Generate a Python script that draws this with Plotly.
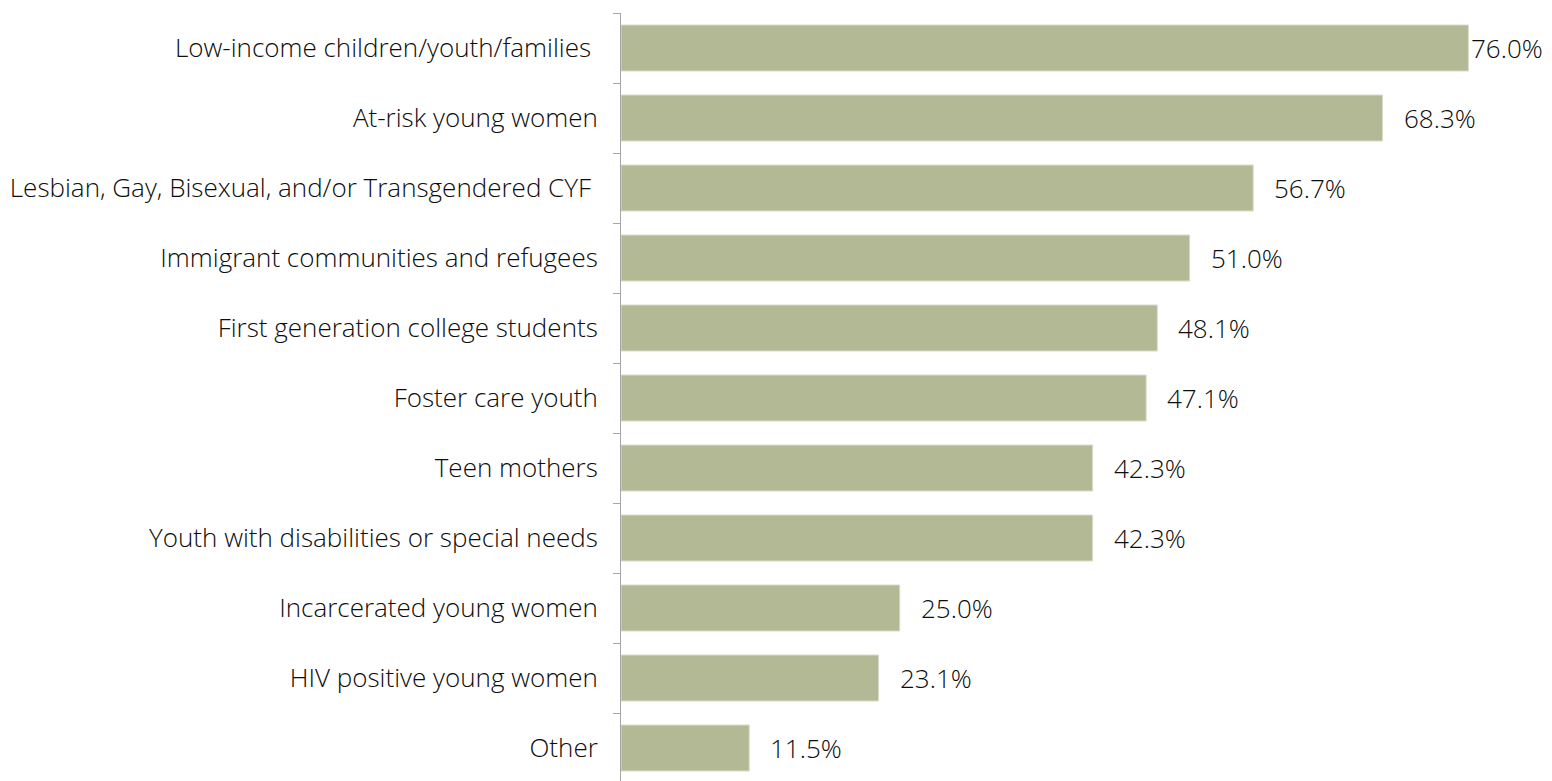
import plotly.graph_objects as go

categories = [
    "Low-income children/youth/families\u00a0",
    "At-risk young women",
    "Lesbian, Gay, Bisexual, and/or Transgendered CYF\u00a0",
    "Immigrant communities and refugees",
    "First generation college students",
    "Foster care youth",
    "Teen mothers",
    "Youth with disabilities or special needs",
    "Incarcerated young women",
    "HIV positive young women",
    "Other",
]
values = [76.0, 68.3, 56.7, 51.0, 48.1, 47.1, 42.3, 42.3, 25.0, 23.1, 11.5]

X_MAX = 80
FONT = dict(family="Open Sans", size=26, color="#0d0d0d", weight=300)
BAR_COLOR = "#B3B994"
AXIS_COLOR = "#A6A6A6"

fig = go.Figure(
    go.Bar(
        x=values,
        y=categories,
        orientation="h",
        marker=dict(color=BAR_COLOR, line=dict(color="#D9DCCB", width=1)),
        hoverinfo="skip",
    )
)

# value labels just past the bar end; pulled in against the bar when space runs out
annotations = []
for cat, v in zip(categories, values):
    shift = 1 if v + 7.5 > X_MAX else 19
    annotations.append(dict(x=v, y=cat, text=f"{v:.1f}%", xanchor="left", xshift=shift,
                            showarrow=False, font=FONT, xref="x", yref="y"))

n = len(categories)
fig.update_layout(
    width=1552,
    height=781,
    margin=dict(l=621, r=39, t=13, b=0),
    paper_bgcolor="white",
    plot_bgcolor="white",
    bargap=0.343,
    showlegend=False,
    annotations=annotations,
    font=FONT,
    xaxis=dict(range=[0, X_MAX], visible=False, showgrid=False, zeroline=False),
    yaxis=dict(
        type="category",
        categoryorder="array",
        categoryarray=categories,
        range=[n - 0.5 - 2 / 70, -0.5],
        showline=True,
        linecolor=AXIS_COLOR,
        linewidth=1,
        ticks="outside",
        tickson="boundaries",
        ticklen=7,
        tickcolor=AXIS_COLOR,
        tickwidth=1,
        ticklabelstandoff=17,
        showgrid=False,
        tickfont=FONT,
    ),
)

fig.write_html("out.html")
